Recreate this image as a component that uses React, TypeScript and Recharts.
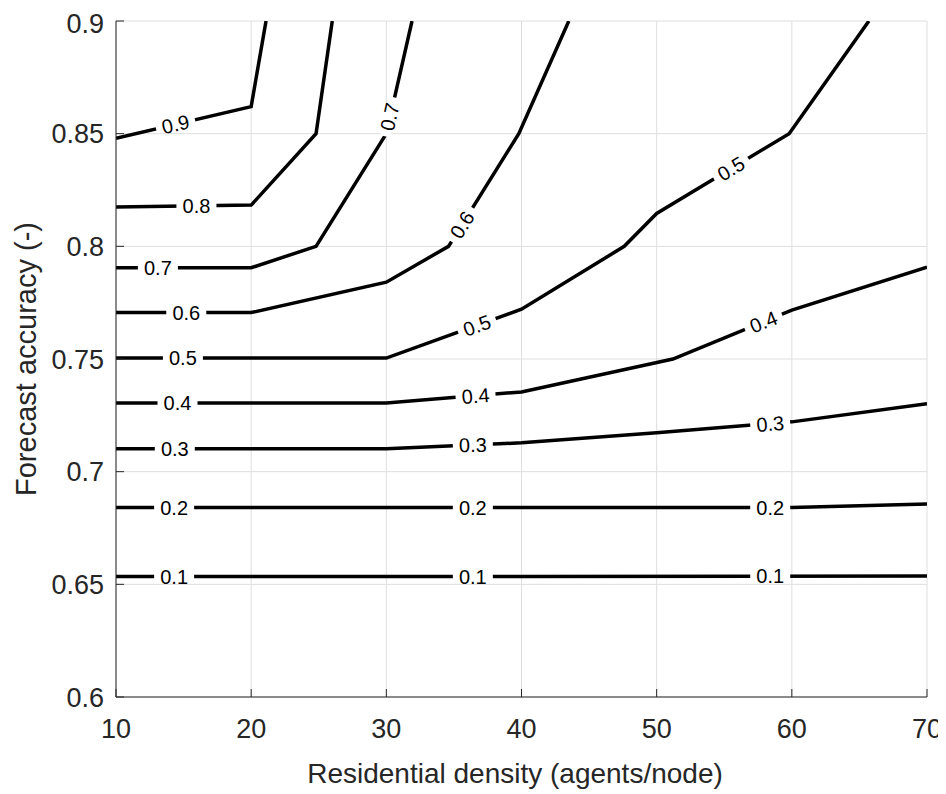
import {
  ComposedChart, Line, Scatter, XAxis, YAxis, CartesianGrid, Label,
} from 'recharts'

const FONT = "'Liberation Sans', Arial, Helvetica, sans-serif"
const AXIS_GRAY = '#262626'

const xTicks = [10, 20, 30, 40, 50, 60, 70]
const yTicks = [0.6, 0.65, 0.7, 0.75, 0.8, 0.85, 0.9]

// contour levels, one polyline each (x = density, y = accuracy)
const c01 = [{ x: 10, y: 0.6535 }, { x: 40, y: 0.6535 }, { x: 70, y: 0.6537 }]
const c02 = [{ x: 10, y: 0.6841 }, { x: 60, y: 0.6841 }, { x: 70, y: 0.6857 }]
const c03 = [
  { x: 10, y: 0.7102 }, { x: 30, y: 0.7102 }, { x: 40, y: 0.7128 },
  { x: 50, y: 0.7173 }, { x: 60, y: 0.7221 }, { x: 70, y: 0.7301 },
]
const c04 = [
  { x: 10, y: 0.7305 }, { x: 30, y: 0.7305 }, { x: 40, y: 0.7354 },
  { x: 51.2, y: 0.75 }, { x: 60, y: 0.7717 }, { x: 70, y: 0.7907 },
]
const c05 = [
  { x: 10, y: 0.7504 }, { x: 30, y: 0.7504 }, { x: 40, y: 0.7721 },
  { x: 47.6, y: 0.8 }, { x: 50, y: 0.8146 }, { x: 59.8, y: 0.85 }, { x: 65.7, y: 0.9 },
]
const c06 = [
  { x: 10, y: 0.7706 }, { x: 20, y: 0.7706 }, { x: 30, y: 0.7841 },
  { x: 34.6, y: 0.8 }, { x: 39.8, y: 0.85 }, { x: 43.5, y: 0.9 },
]
const c07 = [
  { x: 10, y: 0.7905 }, { x: 20, y: 0.7905 }, { x: 24.8, y: 0.8 },
  { x: 30, y: 0.85 }, { x: 31.9, y: 0.9 },
]
const c08 = [
  { x: 10, y: 0.8174 }, { x: 20, y: 0.8183 }, { x: 24.8, y: 0.85 }, { x: 26.0, y: 0.9 },
]
const c09 = [{ x: 10, y: 0.848 }, { x: 20, y: 0.862 }, { x: 21.1, y: 0.9 }]

const contours = [c01, c02, c03, c04, c05, c06, c07, c08, c09]

// inline contour labels: position on the line, text, rotation (deg)
const labels = [
  { x: 14.3, y: 0.6535, t: '0.1', a: 0 },
  { x: 36.4, y: 0.6535, t: '0.1', a: 0 },
  { x: 58.4, y: 0.6536, t: '0.1', a: 0 },
  { x: 14.3, y: 0.6841, t: '0.2', a: 0 },
  { x: 36.4, y: 0.6841, t: '0.2', a: 0 },
  { x: 58.4, y: 0.6841, t: '0.2', a: 0 },
  { x: 14.35, y: 0.7102, t: '0.3', a: 0 },
  { x: 36.4, y: 0.7119, t: '0.3', a: -1 },
  { x: 58.4, y: 0.7213, t: '0.3', a: -4.6 },
  { x: 14.55, y: 0.7305, t: '0.4', a: 0 },
  { x: 36.6, y: 0.7337, t: '0.4', a: -4.7 },
  { x: 57.9, y: 0.7665, t: '0.4', a: -22 },
  { x: 14.95, y: 0.7504, t: '0.5', a: 0 },
  { x: 36.7, y: 0.7649, t: '0.5', a: -20 },
  { x: 55.5, y: 0.8345, t: '0.5', a: -31 },
  { x: 15.2, y: 0.7706, t: '0.6', a: 0 },
  { x: 35.6, y: 0.8096, t: '0.6', a: -58 },
  { x: 13.1, y: 0.7905, t: '0.7', a: 0 },
  { x: 30.25, y: 0.8575, t: '0.7', a: -77 },
  { x: 15.95, y: 0.8178, t: '0.8', a: 0 },
  { x: 14.4, y: 0.8542, t: '0.9', a: -13 },
]

function ContourLabel(props: any) {
  const { cx, cy, payload } = props
  if (cx == null || cy == null || !payload) return null
  return (
    <g transform={`translate(${cx},${cy}) rotate(${payload.a})`}>
      <rect x={-20} y={-5} width={40} height={10} fill="#fff" />
      <text
        x={0}
        y={0}
        dy="0.36em"
        textAnchor="middle"
        fontSize={20}
        fontFamily={FONT}
        fill="#000"
      >
        {payload.t}
      </text>
    </g>
  )
}

const xTitle = () => (
  <text x={507} y={775} textAnchor="middle" fontSize={28} fontFamily={FONT} fill={AXIS_GRAY}>
    Residential density (agents/node)
  </text>
)

const yTitle = () => (
  <text
    transform="translate(18,351) rotate(-90)"
    textAnchor="middle"
    dy="0.36em"
    fontSize={29}
    fontFamily={FONT}
    fill={AXIS_GRAY}
  >
    Forecast accuracy (-)
  </text>
)

const tickStyle = { fontSize: 27, fill: AXIS_GRAY, fontFamily: FONT }
const lineStyle = { stroke: AXIS_GRAY, strokeWidth: 1 }

export default function App() {
  return (
    <div style={{ width: 938, height: 786, background: '#fff' }}>
      <ComposedChart
        width={938}
        height={786}
        margin={{ top: 13, right: 19, left: 0, bottom: 0 }}
        style={{ fontFamily: FONT }}
      >
        <CartesianGrid stroke="#dedede" strokeWidth={1} />
        <XAxis
          dataKey="x"
          type="number"
          domain={[10, 70]}
          ticks={xTicks}
          allowDataOverflow
          height={97}
          axisLine={lineStyle}
          tickLine={lineStyle}
          tickSize={-8}
          tickMargin={30}
          tick={tickStyle}
        >
          <Label content={xTitle} />
        </XAxis>
        <XAxis
          xAxisId="top"
          orientation="top"
          type="number"
          domain={[10, 70]}
          ticks={xTicks}
          allowDataOverflow
          height={0}
          axisLine={lineStyle}
          tickLine={lineStyle}
          tickSize={-8}
          tick={false}
        />
        <YAxis
          dataKey="y"
          type="number"
          domain={[0.6, 0.9]}
          ticks={yTicks}
          allowDataOverflow
          width={108}
          axisLine={lineStyle}
          tickLine={lineStyle}
          tickSize={-8}
          tickMargin={20}
          tick={tickStyle}
        >
          <Label content={yTitle} />
        </YAxis>
        <YAxis
          yAxisId="right"
          orientation="right"
          type="number"
          domain={[0.6, 0.9]}
          ticks={yTicks}
          allowDataOverflow
          width={0}
          axisLine={lineStyle}
          tickLine={lineStyle}
          tickSize={-8}
          tick={false}
        />
        {contours.map((c, i) => (
          <Line
            key={i}
            data={c}
            dataKey="y"
            type="linear"
            dot={false}
            activeDot={false}
            stroke="#000"
            strokeWidth={3.5}
            isAnimationActive={false}
          />
        ))}
        <Scatter
          data={labels}
          dataKey="y"
          shape={ContourLabel}
          isAnimationActive={false}
        />
      </ComposedChart>
    </div>
  )
}
